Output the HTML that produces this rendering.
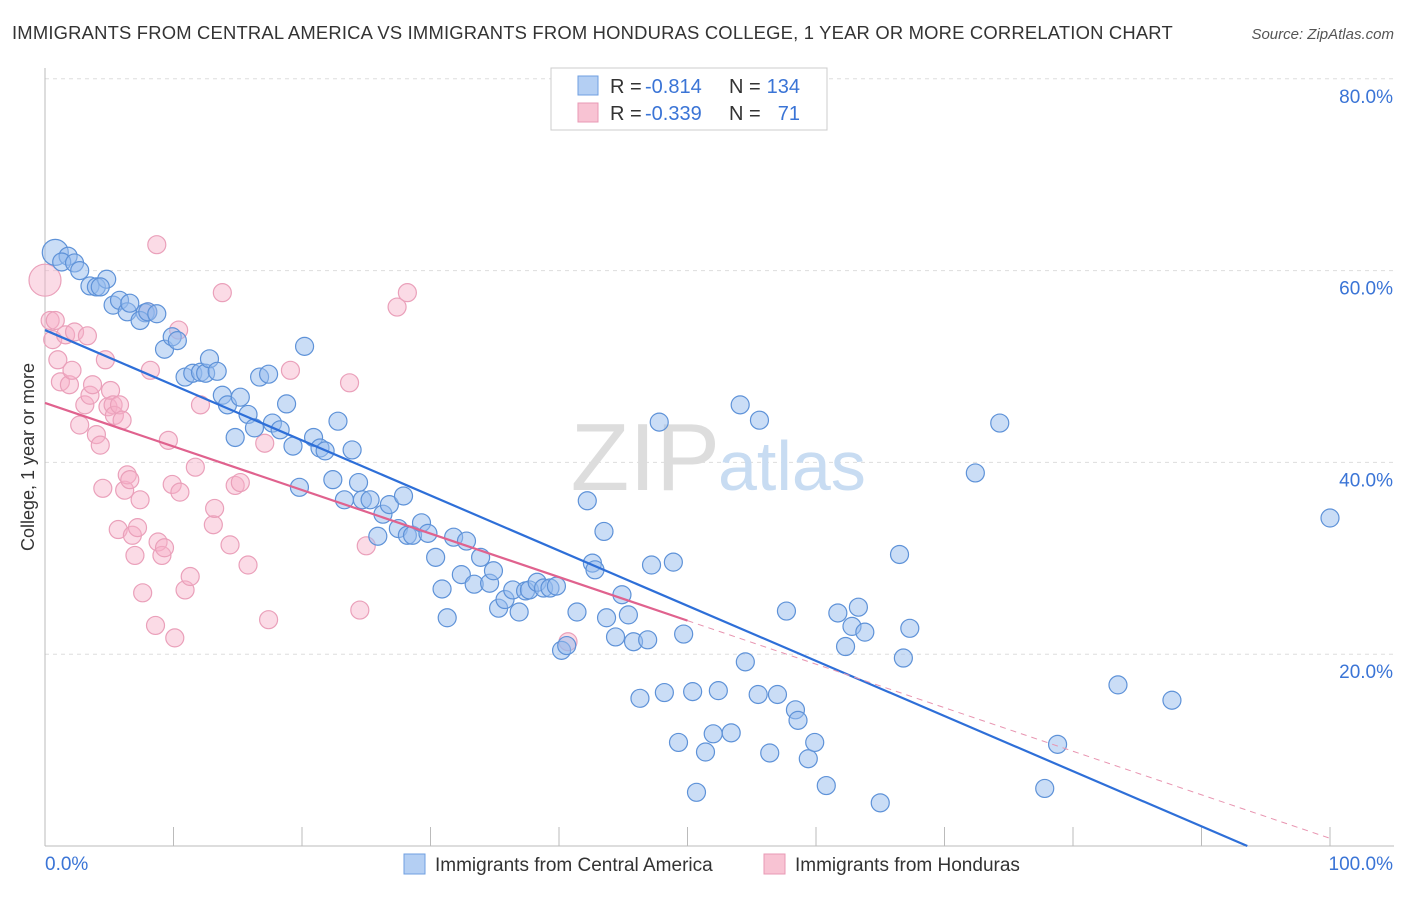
<!DOCTYPE html>
<html><head><meta charset="utf-8"><style>
body{margin:0;background:#fff;font-family:"Liberation Sans",sans-serif;}
svg text{font-family:"Liberation Sans",sans-serif;}
</style></head><body>
<svg id="c" width="1406" height="892" xmlns="http://www.w3.org/2000/svg">
<text x="12" y="39" font-size="18.4" letter-spacing="0.2" fill="#333">IMMIGRANTS FROM CENTRAL AMERICA VS IMMIGRANTS FROM HONDURAS COLLEGE, 1 YEAR OR MORE CORRELATION CHART</text>
<text x="1394" y="39" font-size="15" fill="#555" font-style="italic" text-anchor="end">Source: ZipAtlas.com</text>
<g id="grid"></g>
<text x="720" y="490" font-size="96" fill="#ddd" text-anchor="end" font-family="Liberation Serif">ZIP</text>
<text x="718" y="490" font-size="70" fill="#c8dcf2">atlas</text>
<g id="axes"></g>
<g id="marks"></g>
<text transform="translate(34,457) rotate(-90)" font-size="18" fill="#333" text-anchor="middle">College, 1 year or more</text>
<g>
<rect x="551" y="68" width="276" height="62" fill="#fff" stroke="#ccc"/>
<rect x="578" y="76" width="20" height="19" fill="#b4cff3" stroke="#6f9fe0"/>
<rect x="578" y="103" width="20" height="19" fill="#f8c3d3" stroke="#e89ab4"/>
<text x="610" y="93" font-size="20" fill="#333">R =</text>
<text x="645" y="93" font-size="20" fill="#3a74d6">-0.814</text>
<text x="729" y="93" font-size="20" fill="#333">N =</text>
<text x="800" y="93" font-size="20" fill="#3a74d6" text-anchor="end">134</text>
<text x="610" y="120" font-size="20" fill="#333">R =</text>
<text x="645" y="120" font-size="20" fill="#3a74d6">-0.339</text>
<text x="729" y="120" font-size="20" fill="#333">N =</text>
<text x="800" y="120" font-size="20" fill="#3a74d6" text-anchor="end">71</text>
</g>
<g>
<rect x="404" y="854" width="21" height="20" fill="#b4cff3" stroke="#6f9fe0"/>
<text x="435" y="871" font-size="19" fill="#333">Immigrants from Central America</text>
<rect x="764" y="854" width="21" height="20" fill="#f8c3d3" stroke="#e89ab4"/>
<text x="795" y="871" font-size="19" fill="#333">Immigrants from Honduras</text>
</g>
</svg>
<script>
const blueX=[0.8,1.8,1.3,2.3,2.7,3.5,4.0,4.8,4.3,5.3,5.8,6.4,6.6,7.8,7.4,8.0,8.7,9.3,9.9,10.3,10.9,11.5,12.1,12.5,12.8,13.4,13.8,14.2,14.8,15.2,15.8,16.3,16.7,17.4,17.7,18.3,18.8,19.3,19.8,20.2,20.9,21.4,21.8,22.4,22.8,23.3,23.9,24.4,24.7,25.3,25.9,26.3,26.8,27.5,27.9,28.2,28.6,29.3,29.8,30.4,30.9,31.3,31.8,32.4,32.8,33.4,33.9,34.6,34.9,35.3,35.8,36.4,36.9,37.4,37.7,38.3,38.8,39.3,39.8,40.2,40.6,41.4,42.2,42.6,42.8,43.5,43.7,44.4,44.9,45.4,45.8,46.3,46.9,47.2,47.8,48.2,48.9,49.3,49.7,50.4,50.7,51.4,52.0,52.4,53.4,54.1,54.5,55.6,55.5,56.4,57.0,58.4,58.6,59.4,59.9,60.8,61.7,62.3,62.8,63.3,63.8,65.0,66.5,66.8,67.3,72.4,74.3,77.8,78.8,83.5,87.7,100.0,57.7];
const blueY=[61.9,61.5,60.9,60.8,60.0,58.4,58.3,59.1,58.3,56.4,56.9,55.7,56.6,55.6,54.8,55.7,55.5,51.8,53.1,52.7,48.9,49.3,49.4,49.3,50.8,49.5,47.0,46.0,42.6,46.8,45.0,43.6,48.9,49.2,44.1,43.4,46.1,41.7,37.4,52.1,42.6,41.5,41.2,38.2,44.3,36.1,41.3,37.9,36.1,36.1,32.3,34.6,35.6,33.1,36.5,32.4,32.4,33.7,32.6,30.1,26.8,23.8,32.2,28.3,31.8,27.3,30.1,27.4,28.7,24.8,25.7,26.7,24.4,26.6,26.7,27.5,26.9,26.9,27.1,20.4,20.9,24.4,36.0,29.5,28.8,32.8,23.8,21.8,26.2,24.1,21.3,15.4,21.5,29.3,44.2,16.0,29.6,10.8,22.1,16.1,5.6,9.8,11.7,16.2,11.8,46.0,19.2,44.4,15.8,9.7,15.8,14.2,13.1,9.1,10.8,6.3,24.3,20.8,22.9,24.9,22.3,4.5,30.4,19.6,22.7,38.9,44.1,6.0,10.6,16.8,15.2,34.2,24.5];
const pinkX=[0,0.4,0.8,0.6,1.0,1.6,1.2,1.9,2.3,2.1,2.7,3.1,3.3,3.5,3.7,4.0,4.3,4.5,4.7,4.9,5.1,5.3,5.4,5.7,5.8,6.0,6.2,6.4,6.6,6.8,7.0,7.2,7.4,7.6,8.0,8.2,8.6,8.7,8.8,9.1,9.3,9.6,9.9,10.1,10.4,10.5,10.9,11.3,11.7,12.1,13.1,13.2,13.8,14.4,14.8,15.2,15.8,17.1,17.4,19.1,23.7,24.5,25.0,27.4,28.2,40.7];
const pinkY=[59.0,54.8,54.8,52.8,50.7,53.3,48.4,48.1,53.6,49.6,43.9,46.0,53.2,47.0,48.1,42.9,41.8,37.3,50.7,45.8,47.5,46.0,44.9,33.0,46.0,44.4,37.1,38.7,38.2,32.4,30.3,33.2,36.1,26.4,55.7,49.6,23.0,62.7,31.7,30.3,31.1,42.3,37.7,21.7,53.8,36.9,26.7,28.1,39.5,46.0,33.5,35.2,57.7,31.4,37.6,37.9,29.3,42.0,23.6,49.6,48.3,24.6,31.3,56.2,57.7,21.3];
const yTicks=[20,40,60,80];
const yTickLabels=["20.0%","40.0%","60.0%","80.0%"];
const xTicks=[0,10,20,30,40,50,60,70,80,90,100];
const blueFit=[53.8,-0.575];
const pinkFit=[46.2,-0.454];
const pinkSolidEnd=50;
const NS='http://www.w3.org/2000/svg';
const sx=v=>45+v*12.85, sy=v=>846-v*9.59;
function mk(tag,attrs,parent){const e=document.createElementNS(NS,tag);for(const k in attrs)e.setAttribute(k,attrs[k]);document.getElementById(parent).appendChild(e);return e;}
yTicks.forEach((t,i)=>{
 const l=mk('line',{x1:45,x2:1394,y1:sy(t),y2:sy(t),stroke:'#ddd','stroke-dasharray':'4,4'},'grid');
 
 
 const tx=mk('text',{x:1393,y:sy(t)+24,'font-size':19,fill:'#3a74d6','text-anchor':'end'},'axes');
 tx.textContent=yTickLabels[i];
 
 
});
let a=mk('line',{x1:45,x2:45,y1:68,y2:846,stroke:'#bbb'},'axes');


a=mk('line',{x1:45,x2:1394,y1:846,y2:846,stroke:'#bbb'},'axes');


xTicks.forEach(t=>{
 const l=mk('line',{x1:sx(t),x2:sx(t),y1:827,y2:846,stroke:'#bbb'},'axes');
 
 
});
let t0=mk('text',{x:45,y:870,'font-size':19,fill:'#3a74d6'},'axes');t0.textContent=xTicks[0].toFixed(1)+'%';


t0=mk('text',{x:1393,y:870,'font-size':19,fill:'#3a74d6','text-anchor':'end'},'axes');t0.textContent=xTicks[xTicks.length-1].toFixed(1)+'%';


pinkX.forEach((x,i)=>{
 const c=mk('circle',{cx:sx(x),cy:sy(pinkY[i]),r:i===0?16:9,fill:'rgba(246,176,200,0.45)',stroke:'#eaa0ba','stroke-width':1.2},'marks');
 
 
});
blueX.forEach((x,i)=>{
 const c=mk('circle',{cx:sx(x),cy:sy(blueY[i]),r:i===0?13:9,fill:'rgba(150,188,238,0.5)',stroke:'#5e92d8','stroke-width':1.2},'marks');
 
 
});
const bEnd=-blueFit[0]/blueFit[1];
let ln=mk('line',{x1:sx(0),y1:sy(blueFit[0]),x2:sx(bEnd),y2:sy(0),stroke:'#2e6fd8','stroke-width':2.2},'marks');


ln=mk('line',{x1:sx(0),y1:sy(pinkFit[0]),x2:sx(pinkSolidEnd),y2:sy(pinkFit[0]+pinkFit[1]*pinkSolidEnd),stroke:'#e0628e','stroke-width':2.2},'marks');


ln=mk('line',{x1:sx(pinkSolidEnd),y1:sy(pinkFit[0]+pinkFit[1]*pinkSolidEnd),x2:sx(100),y2:sy(pinkFit[0]+pinkFit[1]*100),stroke:'#e894b0','stroke-width':1,'stroke-dasharray':'6,5'},'marks');


</script>
</body></html>
